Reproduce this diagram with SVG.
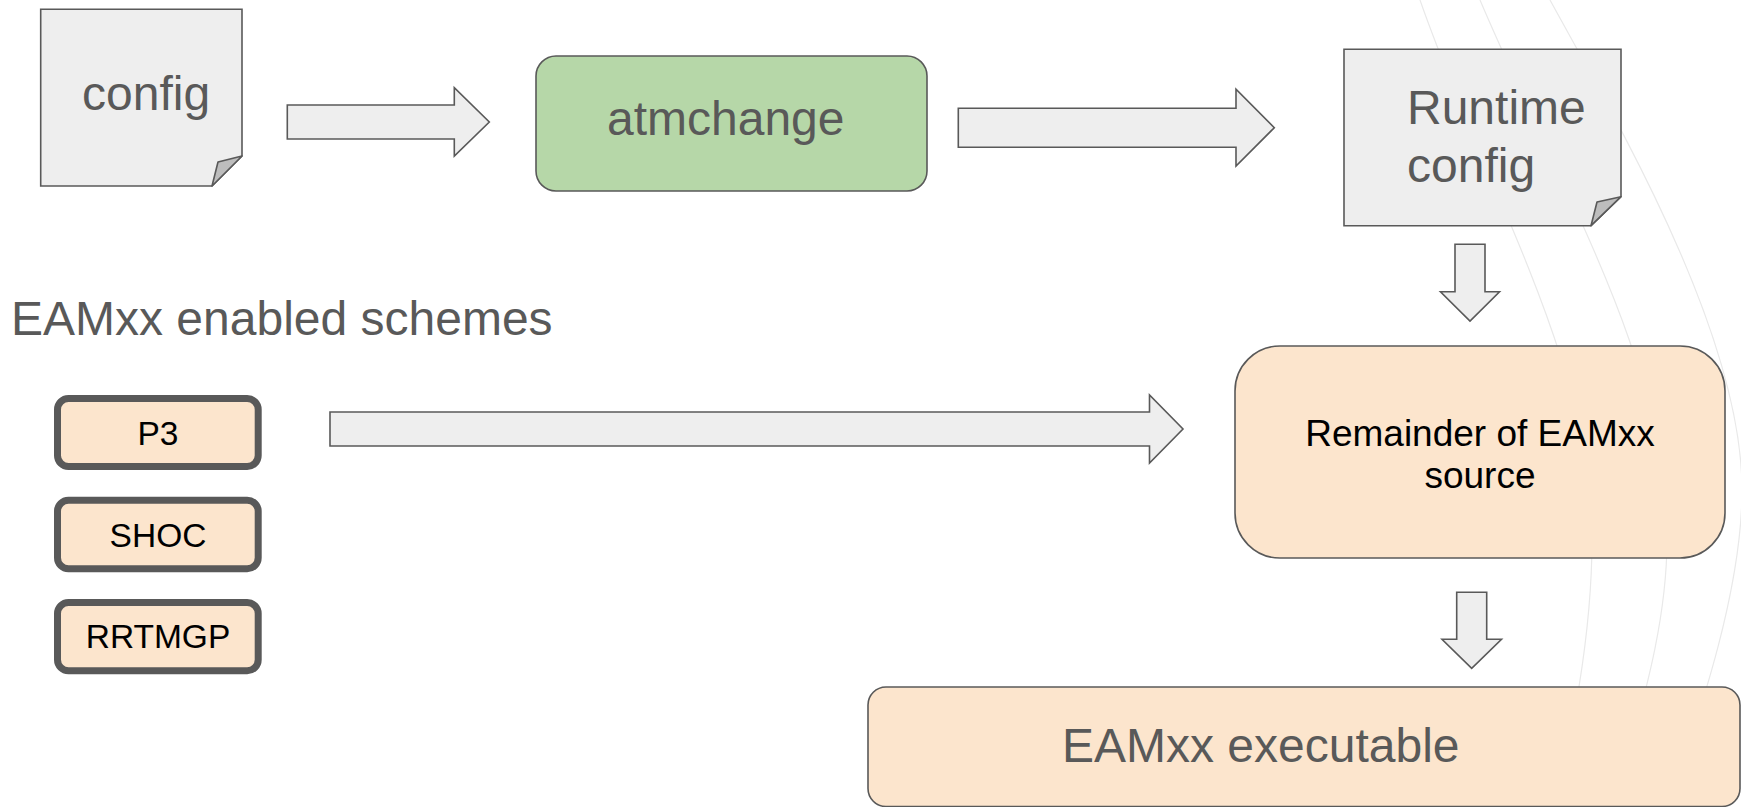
<svg xmlns="http://www.w3.org/2000/svg" width="1741" height="807" viewBox="0 0 1741 807">
<style>
.bg{fill:none;stroke:#e9e9e9;stroke-width:1.2}
.doc{fill:#eeeeee;stroke:#595959;stroke-width:1.6}
.fold{fill:#bdbdbd;stroke:#595959;stroke-width:1.6;stroke-linejoin:round}
.arrow{fill:#eeeeee;stroke:#595959;stroke-width:1.6;stroke-linejoin:miter}
.green{fill:#b6d7a8;stroke:#595959;stroke-width:1.6}
.peach{fill:#fce5cd;stroke:#595959;stroke-width:1.6}
.scheme{fill:#fce5cd;stroke:#595959;stroke-width:7}
.big{font-family:"Liberation Sans",Arial,sans-serif;font-size:48px;fill:#595959}
.mid{font-family:"Liberation Sans",Arial,sans-serif;font-size:37px;fill:#000000}
.small{font-family:"Liberation Sans",Arial,sans-serif;font-size:33.5px;fill:#000000}
</style>
<g id="background">
<path class="bg" d="M1420,0 C1490,200 1592,360 1592,540 C1592,640 1570,740 1555,807"/>
<path class="bg" d="M1480,0 C1565,200 1667,360 1667,540 C1667,640 1630,740 1615,807"/>
<path class="bg" d="M1550,0 C1610,110 1742,330 1742,490 C1742,600 1690,740 1668,807"/>
</g>
<g id="connectors">
<path class="arrow" d="M287.3,105 L454.3,105 L454.3,87.7 L489.3,122 L454.3,156 L454.3,139 L287.3,139 Z"/>
<path class="arrow" d="M958.3,108.3 L1236,108.3 L1236,89.3 L1274.3,127.7 L1236,166 L1236,147.3 L958.3,147.3 Z"/>
<path class="arrow" d="M330,412 L1149.5,412 L1149.5,395 L1183,429 L1149.5,463 L1149.5,446 L330,446 Z"/>
<path class="arrow" d="M1455,244.3 L1485,244.3 L1485,291.7 L1499.5,291.7 L1470,321 L1440.5,291.7 L1455,291.7 Z"/>
<path class="arrow" d="M1456.7,592.3 L1486.7,592.3 L1486.7,639.3 L1501.5,639.3 L1471.7,668.3 L1442,639.3 L1456.7,639.3 Z"/>
</g>
<g id="config">
<path class="doc" d="M40.7,9.3 L242,9.3 L242,156 L212,186 L40.7,186 Z"/>
<path class="fold" d="M242,156 L218,162 L212,186 Z"/>
<text class="big" x="82" y="110">config</text>
</g>
<g id="atmchange">
<rect class="green" x="536" y="56" width="391" height="135" rx="20"/>
<text class="big" x="607" y="135">atmchange</text>
</g>
<g id="runtime-config">
<path class="doc" d="M1344,49.3 L1621,49.3 L1621,196.7 L1591,225.7 L1344,225.7 Z"/>
<path class="fold" d="M1621,196.7 L1597,202 L1591,225.7 Z"/>
<text class="big" x="1407" y="124">Runtime</text>
<text class="big" x="1407" y="181.7">config</text>
</g>
<g id="schemes-label">
<text class="big" x="11" y="335">EAMxx enabled schemes</text>
</g>
<g id="p3">
<rect class="scheme" x="57.5" y="398.5" width="200.7" height="68" rx="11"/>
<text class="small" x="158" y="445" text-anchor="middle">P3</text>
</g>
<g id="shoc">
<rect class="scheme" x="57.5" y="500.2" width="200.7" height="68.6" rx="11"/>
<text class="small" x="158" y="546.7" text-anchor="middle">SHOC</text>
</g>
<g id="rrtmgp">
<rect class="scheme" x="57.5" y="602.5" width="200.7" height="68.3" rx="11"/>
<text class="small" x="158" y="648.3" text-anchor="middle">RRTMGP</text>
</g>
<g id="remainder">
<rect class="peach" x="1235" y="346" width="490" height="212" rx="45"/>
<text class="mid" x="1480" y="446" text-anchor="middle">Remainder of EAMxx</text>
<text class="mid" x="1480" y="488" text-anchor="middle">source</text>
</g>
<g id="executable">
<rect class="peach" x="868" y="687" width="872" height="119.5" rx="18"/>
<text class="big" x="1062" y="762">EAMxx executable</text>
</g>
</svg>
